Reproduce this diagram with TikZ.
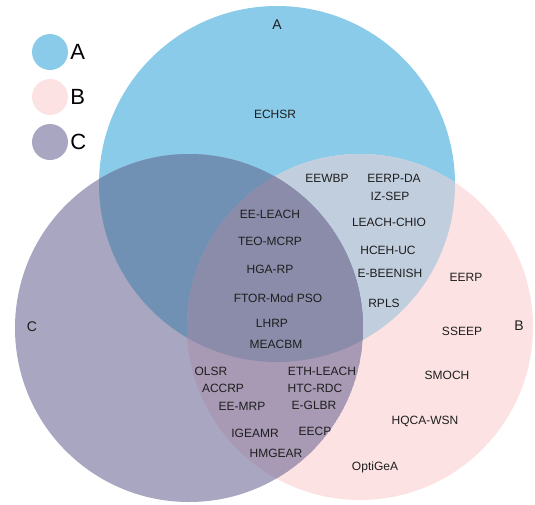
\documentclass[tikz,border=0pt]{standalone}
\usepackage{fontspec}
\setmainfont{Liberation Sans}
\usetikzlibrary{positioning}

\definecolor{setA}{HTML}{8ACBE9}
\definecolor{setB}{HTML}{FCE2E2}
\definecolor{setC}{HTML}{A8A6C0}
\definecolor{setAB}{HTML}{C1CEDE}
\definecolor{setAC}{HTML}{7191B4}
\definecolor{setBC}{HTML}{A899B4}
\definecolor{setABC}{HTML}{8A8CAA}
\definecolor{txt}{HTML}{1E1E1E}

\tikzset{
    item/.style={text=txt, inner sep=0pt, font=\fontsize{12}{14}\selectfont},
    setname/.style={text=txt, inner sep=0pt, font=\fontsize{14}{16}\selectfont},
    legdot/.style={circle, minimum size=36pt, inner sep=0pt},
    legname/.style={inner sep=0pt, font=\fontsize{22}{24}\selectfont}
}

\begin{document}
\begin{tikzpicture}[x=1pt, y=-1pt]
    \useasboundingbox (0,0) rectangle (535,504);
    % Set circles
    \coordinate (cA) at (277,184);
    \coordinate (cB) at (360,327);
    \coordinate (cC) at (189,328);
    \fill[setA] (cA) circle (178pt);
    \fill[setB] (cB) circle (173pt);
    \fill[setC] (cC) circle (174pt);
    % Overlaps
    \begin{scope}
        \clip (cA) circle (178pt);
        \fill[setAB] (cB) circle (173pt);
        \fill[setAC] (cC) circle (174pt);
        \clip (cB) circle (173pt);
        \fill[setABC] (cC) circle (174pt);
    \end{scope}
    \begin{scope}
        \clip (cB) circle (173pt);
        \clip (cC) circle (174pt);
        \clip (0,0) rectangle (535,504);
        \fill[setBC] (cC) circle (174pt);
    \end{scope}
    \begin{scope}
        \clip (cA) circle (178pt);
        \clip (cB) circle (173pt);
        \fill[setABC] (cC) circle (174pt);
    \end{scope}
    % Legend
    \foreach \n/\c/\y in {A/setA/52, B/setB/97, C/setC/142} {
        \node[legdot, fill=\c] (dot\n) at (50,\y) {};
        \node[legname, right=2pt of dot\n] (leg\n) {\n};
    }
    % Set names
    \node[setname] (nameA) at (277,25) {A};
    \node[setname] (nameB) at (519,326) {B};
    \node[setname] (nameC) at (32,327) {C};
    % A only
    \node[item] (echsr) at (275,114) {ECHSR};
    % A and B
    \foreach \n/\t/\x/\y in {eewbp/EEWBP/327/178, eerpda/EERP-DA/394/178,
        izsep/IZ-SEP/390/196, leachchio/LEACH-CHIO/389/222,
        hcehuc/HCEH-UC/388/250, ebeenish/E-BEENISH/390/273, rpls/RPLS/384/303} {
        \node[item] (\n) at (\x,\y) {\t};
    }
    % A, B and C
    \foreach \n/\t/\x/\y in {eeleach/EE-LEACH/270/214, teomcrp/TEO-MCRP/270/241,
        hgarp/HGA-RP/270/269, ftor/FTOR-Mod PSO/278/298,
        lhrp/LHRP/272/323, meacbm/MEACBM/276/344} {
        \node[item] (\n) at (\x,\y) {\t};
    }
    % B only
    \foreach \n/\t/\x/\y in {eerp/EERP/466/277, sseep/SSEEP/462/331,
        smoch/SMOCH/447/375, hqca/HQCA-WSN/425/421, optigea/OptiGeA/375/467} {
        \node[item] (\n) at (\x,\y) {\t};
    }
    % B and C
    \foreach \n/\t/\x/\y in {olsr/OLSR/211/371, accrp/ACCRP/223/388,
        eemrp/EE-MRP/242/406, ethleach/ETH-LEACH/322/371,
        htcrdc/HTC-RDC/315/388, eglbr/E-GLBR/314/405, eecp/EECP/315/431,
        igeamr/IGEAMR/255/433, hmgear/HMGEAR/276/453} {
        \node[item] (\n) at (\x,\y) {\t};
    }
\end{tikzpicture}
\end{document}
